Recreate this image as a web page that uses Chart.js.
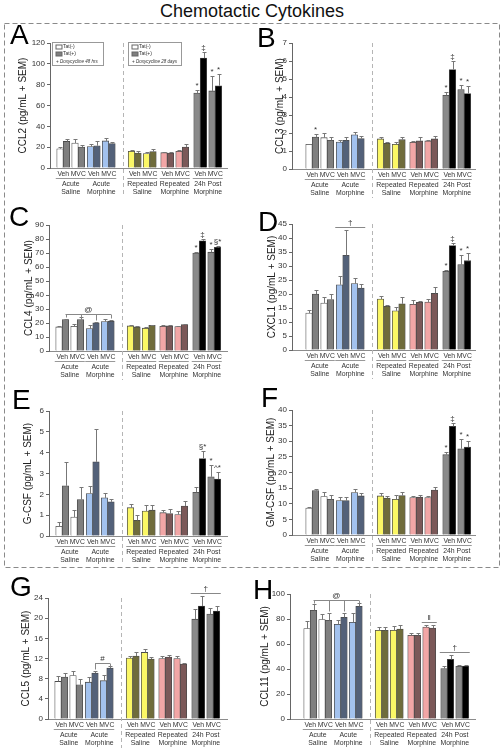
<!DOCTYPE html>
<html>
<head>
<meta charset="utf-8">
<script src="https://cdn.jsdelivr.net/npm/chart.js@4"></script>
<style>
body{margin:0;background:#fff;}
#wrap{position:relative;width:504px;height:755px;overflow:hidden;font-family:"Liberation Sans",Arial,sans-serif;}
#wrap canvas{position:absolute;left:0;top:0;}
#title{position:absolute;left:0;top:2px;width:504px;text-align:center;font-size:18px;line-height:18px;color:#111;}
.lt{position:absolute;font-size:28px;line-height:28px;color:#000;}
#frame{position:absolute;left:0;top:0;}
</style>
</head>
<body>
<div id="wrap">
	<svg id="frame" width="504" height="755"><rect x="4.5" y="23.5" width="495" height="544" fill="none" stroke="#8a8a8a" stroke-dasharray="5,3"/></svg>
	<div id="title">Chemotactic Cytokines</div>
</div>
<script>
//グループ名(2行)
var groupNames = [["Acute","Saline"],["Acute","Morphine"],["Repeated","Saline"],["Repeated","Morphine"],["24h Post","Morphine"]];
var drugLabels = ["Veh","MVC"];
var tatLabels = ["Tat(-)","Tat(+)"];
var doxNotes = ["+ Doxycycline 48 hrs","+ Doxycycline 28 days"];

//各グループ: Veh Tat(-), Veh Tat(+), MVC Tat(-), MVC Tat(+)
var ccl2 = [18.5,25.5,24,20.2, 20.5,21.4,26,23.4, 16,14.4,13.8,15.7, 14.7,14.4,16,20.2, 72,105.5,74,79];
var ccl2Sem = [2,2.5,3.8,2, 2.5,5,2.5,1.6, 1.5,1.6,1.3,2.5, 1,1,1,2.5, 3.2,5.8,14.4,11.5];
var ccl2Sig = ["","","","", "","","","", "","","","", "","","","", "*","‡","*","*"];
var ccl2Ticks = [0,20,40,60,80,100,120];

var ccl3 = [1.37,1.78,1.74,1.59, 1.5,1.59,1.9,1.69, 1.67,1.43,1.37,1.63, 1.48,1.56,1.56,1.67, 4.09,5.52,4.41,4.19];
var ccl3Sem = [0.03,0.18,0.26,0.19, 0.1,0.19,0.15,0.13, 0.11,0.07,0.15,0.15, 0.08,0.22,0.07,0.14, 0.19,0.46,0.28,0.4];
var ccl3Sig = ["","*","","", "","","","", "","","","", "","","","", "*","‡","*","*"];
var ccl3Ticks = [0,1,2,3,4,5,6,7];

var ccl4 = [17.2,22.5,17.7,22.5, 16,20.1,21,21.3, 17.9,17.2,16.3,18.4, 17.7,17.9,17.5,18.9, 69.9,78.7,70.6,74];
var ccl4Sem = [0.7,0.7,1.9,1.7, 2.4,0.9,1.7,0.7, 0.5,0.5,0.5,0.5, 0.7,0.5,0.5,0.7, 0.7,1.2,2.4,1.2];
var ccl4Sig = ["","","","", "","","","", "","","","", "","","","", "*","‡","*","§*"];
var ccl4Ticks = [0,10,20,30,40,50,60,70,80,90];

var cxcl1 = [13.2,20,16.8,18, 23.3,33.8,23.7,22.1, 18.2,15.6,14,16.5, 16.3,17,17.1,20.2, 28.1,37.3,30.5,31.9];
var cxcl1Sem = [1,1.5,2,2, 3,9.2,2,1.5, 1,0.6,1.3,2.4, 1.4,0.5,1.2,2.2, 0.6,0.9,3.5,2.7];
var cxcl1Sig = ["","","","", "","","","", "","","","", "","","","", "*","‡","*","*"];
var cxcl1Ticks = [0,5,10,15,20,25,30,35,40,45];

var gcsf = [0.47,2.41,0.91,1.75, 2.04,3.56,1.83,1.64, 1.36,0.75,1.2,1.24, 1.12,1.08,1.03,1.44, 2.1,3.72,2.84,2.73];
var gcsfSem = [0.18,1.15,0.32,0.58, 0.35,1.57,0.24,0.16, 0.2,0.24,0.27,0.27, 0.15,0.24,0.16,0.23, 0.24,0.34,0.56,0.32];
var gcsfSig = ["","","","", "","","","", "","","","", "","","","", "","§*","*","^*"];
var gcsfTicks = [0,1,2,3,4,5,6];

var gmcsf = [8.6,14.2,12.3,11.4, 11,11,13.6,12.5, 12.5,11.8,11.4,12.6, 12,12.1,12,14.4, 25.7,34.8,27.6,28.1];
var gmcsfSem = [0.5,0.5,1.6,1.4, 1.3,1.3,1.2,0.9, 0.9,0.7,1.4,1.1, 0.5,0.7,0.5,1.1, 1,1.2,3.2,2.1];
var gmcsfSig = ["","","","", "","","","", "","","","", "","","","", "*","‡","*","*"];
var gmcsfTicks = [0,5,10,15,20,25,30,35,40];

var ccl5 = [7.45,8.3,8.6,6.8, 7.3,9.1,7.6,10.1, 12.1,12.5,13.2,11.9, 12,12.3,12,10.9, 19.8,22.4,20.8,21.4];
var ccl5Sem = [1.1,0.8,0.9,1.1, 1,0.5,1.1,0.5, 0.3,0.7,0.7,0.3, 0.4,0.3,0.5,0.3, 2,2,1.3,1];
var ccl5Sig = ["","","","", "","","","", "","","","", "","","","", "","","",""];
var ccl5Ticks = [0,4,8,12,16,20,24];

var ccl11 = [72.3,87,79.5,78.9, 75.7,81.3,77.3,90.1, 70.9,70.9,70.9,72, 66.9,66.9,73.6,72.8, 40.3,47.7,42.1,42.4];
var ccl11Sem = [6,4.8,4.2,5.9, 3.2,3.5,7.5,2.7, 2.7,2.7,3.5,2.9, 1.9,1.9,1.6,2.7, 2.1,3.8,0.8,1.1];
var ccl11Sig = ["","","","", "","","","", "","","","", "","","","", "","","",""];
var ccl11Ticks = [0,20,40,60,80,100];

//グループごとの色 [Tat(-), Tat(+)]
var groupColors = [["#ffffff","#7f7f7f"],["#a3c2ee","#536179"],["#fbf766","#6f6c3b"],["#f2a6a6","#7b5858"],["#8a8a8a","#000000"]];

//棒の配置(px単位)
var GROUP_START = [0,30.5,71.5,104,137];
var BAR_OFFSET = [0,6.5,15,21.5];
var BAR_W = 6.5;
function barX(i){
	return 10 + GROUP_START[Math.floor(i/4)] + BAR_OFFSET[i%4];
}

var FONT = '"Liberation Sans", "DejaVu Sans", Arial, sans-serif';
Chart.defaults.font.family = FONT;
Chart.defaults.color = '#333';

var panels = [
	{letter:'A', label:'CCL2 (pg/mL + SEM)', vals:ccl2, sem:ccl2Sem, sig:ccl2Sig, ticks:ccl2Ticks, brackets:[],
		ax:50, top:43, zero:168, end:227, xmin:0, titleOff:27, lx:10, ly:21, legend:true},
	{letter:'B', label:'CCL3 (pg/mL + SEM)', vals:ccl3, sem:ccl3Sem, sig:ccl3Sig, ticks:ccl3Ticks, brackets:[],
		ax:292, top:43, zero:169, end:475, xmin:-7, titleOff:12, lx:257, ly:24},
	{letter:'C', label:'CCL4 (pg/mL + SEM)', vals:ccl4, sem:ccl4Sem, sig:ccl4Sig, ticks:ccl4Ticks,
		brackets:[{text:'@', bars:[1,3,5,7], drops:true}],
		ax:49, top:225, zero:351, end:227, xmin:0, titleOff:20, lx:9, ly:203},
	{letter:'D', label:'CXCL1 (pg/mL + SEM)', vals:cxcl1, sem:cxcl1Sem, sig:cxcl1Sig, ticks:cxcl1Ticks,
		brackets:[{text:'†', bars:[4,7], drops:false}],
		ax:292, top:224, zero:350, end:475, xmin:-7, titleOff:20, lx:258, ly:208},
	{letter:'E', label:'G-CSF (pg/mL + SEM)', vals:gcsf, sem:gcsfSem, sig:gcsfSig, ticks:gcsfTicks, brackets:[],
		ax:49, top:411, zero:536, end:227, xmin:0, titleOff:21, lx:12, ly:386},
	{letter:'F', label:'GM-CSF (pg/mL + SEM)', vals:gmcsf, sem:gmcsfSem, sig:gmcsfSig, ticks:gmcsfTicks, brackets:[],
		ax:292, top:410, zero:535, end:475, xmin:-7, titleOff:21, lx:261, ly:384},
	{letter:'G', label:'CCL5 (pg/mL + SEM)', vals:ccl5, sem:ccl5Sem, sig:ccl5Sig, ticks:ccl5Ticks,
		brackets:[{text:'#', bars:[5,7], drops:true},{text:'†', bars:[16,19], drops:false}],
		ax:48, top:598, zero:719, end:227, xmin:0, titleOff:22, lx:10, ly:573},
	{letter:'H', label:'CCL11 (pg/mL + SEM)', vals:ccl11, sem:ccl11Sem, sig:ccl11Sig, ticks:ccl11Ticks,
		brackets:[{text:'@', bars:[1,3,5,7], drops:true},{text:'‖', bars:[14,15], drops:false},{text:'†', bars:[16,19], drops:false}],
		ax:290, top:594, zero:719, end:475, xmin:-7, titleOff:25, lx:253, ly:576}
];

var Y_W = 26;

//グラフ周りの描画(エラーバー、記号、ラベル等)
function makeDecor(p){
	return {
		id: 'decor' + p.letter,
		afterDatasetsDraw: function(chart){
			var ctx = chart.ctx;
			var ys = chart.scales.y;
			var bars = chart.getDatasetMeta(0).data;
			var half = BAR_W / 2;
			var tops = [];
			ctx.save();
			//エラーバー
			ctx.strokeStyle = '#777';
			ctx.lineWidth = 1;
			bars.forEach(function(b, i){
				var yt = Math.round(ys.getPixelForValue(p.vals[i] + p.sem[i])) + 0.5;
				var x = Math.round(b.x) + 0.5;
				tops.push(yt);
				ctx.beginPath();
				ctx.moveTo(x, b.y);
				ctx.lineTo(x, yt);
				ctx.moveTo(x - 2, yt);
				ctx.lineTo(x + 2, yt);
				ctx.stroke();
			});
			//有意差の記号
			ctx.fillStyle = '#333';
			ctx.font = '8px ' + FONT;
			ctx.textAlign = 'center';
			ctx.textBaseline = 'bottom';
			bars.forEach(function(b, i){
				if(p.sig[i]) ctx.fillText(p.sig[i], b.x, tops[i] - 0.5);
			});
			//ブラケット
			ctx.strokeStyle = '#888';
			p.brackets.forEach(function(br){
				var a = br.bars[0], z = br.bars[br.bars.length - 1];
				var yl = Infinity;
				for(var i = a; i <= z; i++) yl = Math.min(yl, tops[i]);
				yl = Math.round(yl - 4) + 0.5;
				var x1, x2;
				if(br.drops){
					x1 = bars[a].x; x2 = bars[z].x;
				}else{
					x1 = bars[a].x - half - 1; x2 = bars[z].x + half + 1;
				}
				ctx.beginPath();
				ctx.moveTo(x1, yl);
				ctx.lineTo(x2, yl);
				if(br.drops){
					br.bars.forEach(function(k){
						var xd = Math.round(bars[k].x) + 0.5;
						ctx.moveTo(xd, yl);
						ctx.lineTo(xd, Math.max(yl + 3, tops[k] - 2));
					});
				}
				ctx.stroke();
				ctx.fillText(br.text, (x1 + x2) / 2, yl - 1);
			});
			//区切りの破線
			var sx = Math.round((bars[7].x + bars[8].x) / 2) + 1.5;
			ctx.strokeStyle = '#b5b5b5';
			ctx.setLineDash([4,3]);
			ctx.beginPath();
			ctx.moveTo(sx, p.top);
			ctx.lineTo(sx, p.zero + 29);
			ctx.stroke();
			ctx.setLineDash([]);
			//X軸ラベル
			ctx.fillStyle = '#333';
			ctx.textBaseline = 'middle';
			ctx.strokeStyle = '#999';
			for(var g = 0; g < 5; g++){
				var b0 = bars[g*4], b3 = bars[g*4+3];
				ctx.font = '6.8px ' + FONT;
				ctx.fillText(drugLabels[0], (b0.x + bars[g*4+1].x) / 2, p.zero + 6);
				ctx.fillText(drugLabels[1], (bars[g*4+2].x + b3.x) / 2, p.zero + 6);
				ctx.beginPath();
				ctx.moveTo(b0.x - half - 1, p.zero + 10.5);
				ctx.lineTo(b3.x + half + 1, p.zero + 10.5);
				ctx.stroke();
				ctx.font = '6.9px ' + FONT;
				var cx = (b0.x + b3.x) / 2;
				ctx.fillText(groupNames[g][0], cx, p.zero + 16);
				ctx.fillText(groupNames[g][1], cx, p.zero + 24.5);
			}
			//Y軸タイトル
			ctx.save();
			ctx.translate(p.ax - p.titleOff, (p.top + p.zero) / 2);
			ctx.rotate(-Math.PI / 2);
			ctx.font = '10px ' + FONT;
			ctx.fillStyle = '#222';
			ctx.fillText(p.label, 0, 0);
			ctx.restore();
			//凡例(Aのみ)
			if(p.legend){
				var boxes = [{x:52, w:51, note:0},{x:128, w:53, note:1}];
				boxes.forEach(function(bx){
					var y0 = 42.5;
					ctx.strokeStyle = '#999';
					ctx.strokeRect(bx.x + 0.5, y0, bx.w, 23);
					ctx.textAlign = 'left';
					ctx.font = '5px ' + FONT;
					for(var t = 0; t < 2; t++){
						var ry = y0 + 4.5 + t * 7;
						ctx.fillStyle = groupColors[0][t];
						ctx.fillRect(bx.x + 4, ry - 2, 6, 4);
						ctx.strokeStyle = '#666';
						ctx.strokeRect(bx.x + 4, ry - 2, 6, 4);
						ctx.fillStyle = '#333';
						ctx.fillText(tatLabels[t], bx.x + 11, ry);
					}
					ctx.font = 'italic 4.5px ' + FONT;
					ctx.fillText(doxNotes[bx.note], bx.x + 4, y0 + 19);
				});
			}
			ctx.restore();
		}
	};
}

var wrap = document.getElementById('wrap');
panels.forEach(function(p){
	var can = document.createElement('canvas');
	can.width = 504;
	can.height = 755;
	wrap.appendChild(can);
	var lt = document.createElement('div');
	lt.className = 'lt';
	lt.style.left = p.lx + 'px';
	lt.style.top = p.ly + 'px';
	lt.textContent = p.letter;
	wrap.appendChild(lt);

	var pts = p.vals.map(function(v, i){ return {x: barX(i), y: v}; });
	var cols = p.vals.map(function(v, i){ return groupColors[Math.floor(i/4)][i%2]; });
	var yMax = p.ticks[p.ticks.length - 1];

	new Chart(can.getContext('2d'), {
		type: 'bar',
		data: {
			datasets: [{
				data: pts,
				backgroundColor: cols,
				borderColor: '#4a4a4a',
				borderWidth: 0.8,
				barThickness: BAR_W
			}]
		},
		options: {
			responsive: false,
			animation: false,
			devicePixelRatio: 1,
			layout: {padding: {left: p.ax - Y_W, top: p.top, right: 504 - p.end, bottom: 755 - p.zero}},
			plugins: {legend: {display: false}, tooltip: {enabled: false}},
			scales: {
				x: {
					type: 'linear', min: p.xmin, max: p.xmin + (p.end - p.ax), offset: false,
					grid: {display: false, offset: false}, ticks: {display: false},
					border: {display: true, color: '#8c8c8c', width: 1},
					afterFit: function(s){ s.height = 0; }
				},
				y: {
					min: 0, max: yMax,
					ticks: {stepSize: p.ticks[1] - p.ticks[0], font: {size: 8}, color: '#333', padding: 2},
					grid: {display: true, drawOnChartArea: false, drawTicks: true, tickLength: 3, color: '#666'},
					border: {display: true, color: '#666', width: 1},
					afterFit: function(s){ s.width = Y_W; }
				}
			}
		},
		plugins: [makeDecor(p)]
	});
});
</script>
</body>
</html>
